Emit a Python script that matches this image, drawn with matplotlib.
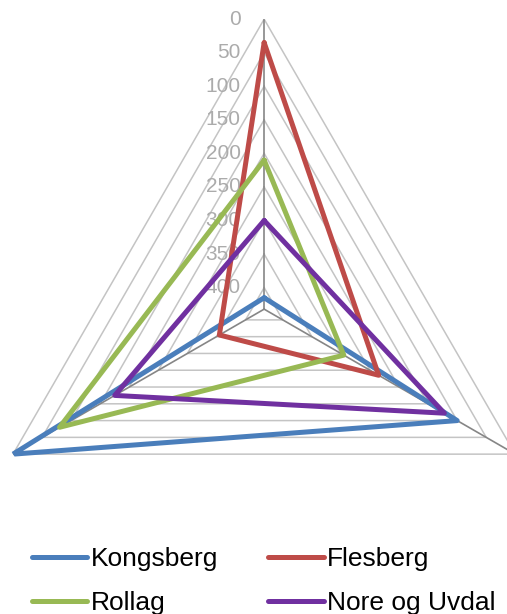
import numpy as np
import matplotlib
matplotlib.use("Agg")
import matplotlib.pyplot as plt

plt.rcParams['font.family'] = ['Liberation Sans', 'DejaVu Sans']

# three unnamed categories, clockwise from the top
n_cat = 3
series_names = ['Kongsberg', 'Flesberg', 'Rollag', 'Nore og Uvdal']
kongsberg = [415, 100, 0]
flesberg = [35, 235, 355]
rollag = [210, 295, 80]
nore_og_uvdal = [300, 122, 175]
colors = ['#4A7EBB', '#BE4B48', '#98B954', '#7030A0']

grid_levels = [0, 50, 100, 150, 200, 250, 300, 350, 400]
r_max = 432

fig = plt.figure(figsize=(5.07, 6.14), dpi=100)
ax = fig.add_axes([-0.051, 0.024, 1.144, 0.945], projection='polar')
ax.set_theta_offset(np.pi / 2)
ax.set_theta_direction(-1)
ax.set_rlim(r_max, 0)   # reversed: 0 on the outside
ax.grid(False)
ax.set_xticks([])
ax.set_yticks([])
ax.spines['polar'].set_visible(False)
ax.patch.set_alpha(0)

angles = np.linspace(0, 2 * np.pi, n_cat, endpoint=False)
closed = np.append(angles, angles[0])

# triangular gridlines
for lv in grid_levels:
    ax.plot(closed, [lv] * (n_cat + 1), color='#C4C4C4', lw=1.1, zorder=1)
# spokes
for a in angles:
    ax.plot([a, a], [r_max, 0], color='#868686', lw=1.2, zorder=2)
# radial labels on the top spoke
for lv in grid_levels:
    ax.annotate(str(lv), xy=(0, lv), xytext=(-17, 0), textcoords='offset points',
                ha='right', va='center', fontsize=15, color='#ABABAB', zorder=3)

lines = []
for name, vals, c in zip(series_names, [kongsberg, flesberg, rollag, nore_og_uvdal], colors):
    ln, = ax.plot(closed, vals + vals[:1], color=c, lw=3.6, label=name,
                  solid_joinstyle='round', solid_capstyle='round', zorder=4)
    lines.append(ln)

# legend fills row by row: Kongsberg, Flesberg / Rollag, Nore og Uvdal
order = [0, 2, 1, 3]
fig.legend([lines[i] for i in order], [series_names[i] for i in order],
           loc='center', bbox_to_anchor=(0.52, 0.054), ncol=2,
           frameon=False, fontsize=19, handlelength=2.1, handletextpad=0.12,
           columnspacing=1.9, labelspacing=0.75)

fig.savefig('out.png', dpi=100)
